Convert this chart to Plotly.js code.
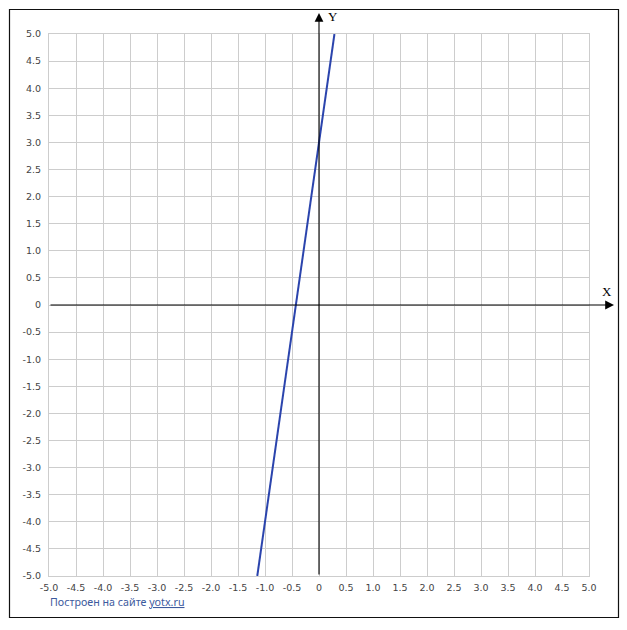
<!DOCTYPE html>
<html>
<head>
<meta charset="utf-8">
<script src="https://cdn.plot.ly/plotly-3.0.1.min.js"></script>
<style>
  html, body { margin: 0; padding: 0; background: #fff; }
  #chart { width: 627px; height: 630px; }
</style>
</head>
<body>
<div id="chart"></div>
<script>
// Straight line y = 7x + 3, clipped to the [-5, 5] window
const lineX = [-1.143, 0.286];
const lineY = [-5.0, 5.0];

// Tick positions and their printed labels
const tickVals = [-5.0, -4.5, -4.0, -3.5, -3.0, -2.5, -2.0, -1.5, -1.0, -0.5, 0,
                  0.5, 1.0, 1.5, 2.0, 2.5, 3.0, 3.5, 4.0, 4.5, 5.0];
const tickText = ['-5.0', '-4.5', '-4.0', '-3.5', '-3.0', '-2.5', '-2.0', '-1.5', '-1.0', '-0.5', '0',
                  '0.5', '1.0', '1.5', '2.0', '2.5', '3.0', '3.5', '4.0', '4.5', '5.0'];

const axisLabelX = 'X';
const axisLabelY = 'Y';
const footerText = 'Построен на сайте <span style="text-decoration:underline">yotx.ru</span>';

const W = 627, H = 630;
const M = { l: 49, r: 38, t: 34, b: 54 };
const pw = W - M.l - M.r, ph = H - M.t - M.b;
// pixel -> paper helpers
const px = p => (p - M.l) / pw;
const py = p => (H - M.b - p) / ph;

const tickFont = { family: 'DejaVu Sans', size: 9.5, color: '#444' };

const commonAxis = {
  range: [-5, 5],
  tickmode: 'array',
  tickvals: tickVals,
  ticktext: tickText,
  showgrid: true,
  gridcolor: '#cdcdcd',
  gridwidth: 1,
  zeroline: false,
  showline: true,
  linecolor: '#cdcdcd',
  linewidth: 1,
  mirror: true,
  ticks: '',
  tickfont: tickFont,
  fixedrange: true
};

const trace = {
  x: lineX,
  y: lineY,
  type: 'scatter',
  mode: 'lines',
  line: { color: '#2b44ad', width: 2 },
  hoverinfo: 'skip',
  showlegend: false
};

const arrowStyle = { text: '', showarrow: true, arrowhead: 2, arrowsize: 1.6,
                     arrowwidth: 1.1, arrowcolor: '#000', axref: 'pixel', ayref: 'pixel' };

const layout = {
  width: W,
  height: H,
  margin: M,
  paper_bgcolor: '#ffffff',
  plot_bgcolor: '#ffffff',
  showlegend: false,
  xaxis: Object.assign({}, commonAxis, { ticklabelstandoff: 3 }),
  yaxis: Object.assign({}, commonAxis, { ticklabelstandoff: 5 }),
  shapes: [
    // outer frame
    { type: 'rect', xref: 'paper', yref: 'paper',
      x0: px(9.5), x1: px(618.5), y0: py(617.5), y1: py(9.5),
      line: { color: '#111', width: 1.2 }, fillcolor: 'rgba(0,0,0,0)' }
  ],
  annotations: [
    // X axis with arrow
    Object.assign({ xref: 'paper', yref: 'y', x: px(614), y: 0, ax: -(614 - M.l), ay: 0 }, arrowStyle),
    // Y axis with arrow
    Object.assign({ xref: 'x', yref: 'paper', x: 0, y: py(13), ax: 0, ay: (H - M.b) - 13 }, arrowStyle),
    { xref: 'paper', yref: 'paper', x: px(607), y: py(291), xanchor: 'center', yanchor: 'middle',
      text: axisLabelX, showarrow: false,
      font: { family: 'Liberation Serif', size: 13, color: '#000' } },
    { xref: 'paper', yref: 'paper', x: px(333), y: py(16), xanchor: 'center', yanchor: 'middle',
      text: axisLabelY, showarrow: false,
      font: { family: 'Liberation Serif', size: 13, color: '#000' } },
    { xref: 'paper', yref: 'paper', x: px(48), y: py(602), xanchor: 'left', yanchor: 'middle',
      text: footerText, showarrow: false,
      font: { family: 'Noto Sans', size: 10.7, color: '#3d5a9e' } }
  ]
};

Plotly.newPlot('chart', [trace], layout, { displayModeBar: false, staticPlot: true });
</script>
</body>
</html>
